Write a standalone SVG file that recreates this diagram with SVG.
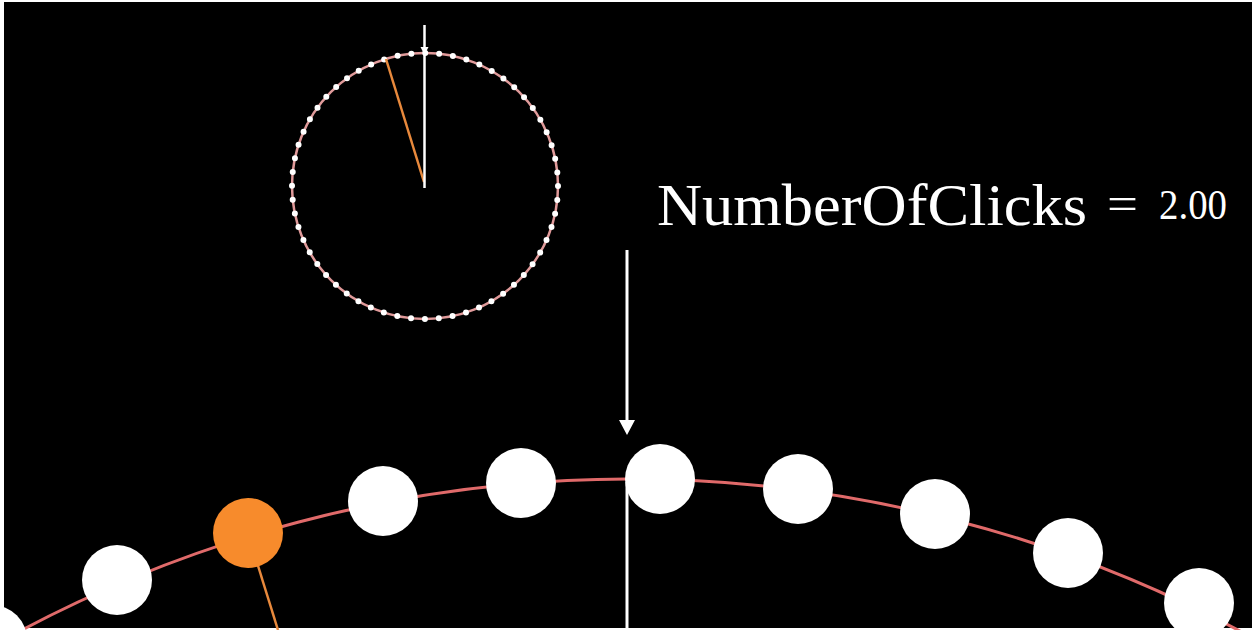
<svg xmlns="http://www.w3.org/2000/svg" width="1254" height="630" viewBox="0 0 1254 630">
  <style>
    .node { fill: #ffffff; }
    .orange { fill: #f78b2c; }
    .wline { stroke: #ffffff; stroke-width: 3; fill: none; }
    .oline { stroke: #e8893c; stroke-width: 2.5; fill: none; }
    .arc { stroke: #e06a6a; stroke-width: 3; fill: none; }
    .label { font-family: "Liberation Serif", "DejaVu Serif", serif; fill: #ffffff; }
  </style>
  <rect x="0" y="0" width="1254" height="630" fill="#ffffff"/>
  <rect x="4" y="2" width="1248" height="626" fill="#000000"/>

  <g id="dial">
    <circle cx="425" cy="186" r="133" fill="none" stroke="#e09a9a" stroke-width="2.5"/>
    <circle cx="425" cy="186" r="133" fill="none" stroke="#ffffff" stroke-width="6" stroke-linecap="round" stroke-dasharray="0 13.928"/>
    <line class="oline" x1="424" y1="182" x2="386" y2="59"/>
    <line x1="424.5" y1="25" x2="424.5" y2="188" stroke="#ffffff" stroke-width="2.5"/>
    <polygon points="420.5,47 428.5,47 424.5,55" fill="#ffffff"/>
  </g>

  <g id="label">
    <text class="label" x="657" y="225" font-size="59" textLength="430" lengthAdjust="spacingAndGlyphs">NumberOfClicks</text>
    <text class="label" x="1107" y="219" font-size="46" textLength="31" lengthAdjust="spacingAndGlyphs">=</text>
    <text class="label" x="1159" y="219" font-size="43" textLength="68" lengthAdjust="spacingAndGlyphs">2.00</text>
  </g>

  <g id="connectors">
    <path class="arc" d="M 0 641.9 A 1300 1300 0 0 1 1254 638.6"/>
    <line class="oline" x1="250" y1="540" x2="278" y2="630"/>
    <line class="wline" x1="627" y1="250" x2="627" y2="421"/>
    <polygon points="619,420 635,420 627,435" fill="#ffffff"/>
  </g>

  <g id="node-0"><circle class="node" cx="-8" cy="640" r="35"/></g>
  <g id="node-1"><circle class="node" cx="117" cy="580" r="35"/></g>
  <g id="node-2"><circle class="orange" cx="248" cy="533" r="35"/></g>
  <g id="node-3"><circle class="node" cx="383" cy="501" r="35"/></g>
  <g id="node-4"><circle class="node" cx="521" cy="483" r="35"/></g>
  <g id="node-5"><circle class="node" cx="660" cy="479" r="35"/></g>
  <g id="node-6"><circle class="node" cx="798" cy="489" r="35"/></g>
  <g id="node-7"><circle class="node" cx="935" cy="514" r="35"/></g>
  <g id="node-8"><circle class="node" cx="1068" cy="553" r="35"/></g>
  <g id="node-9"><circle class="node" cx="1199" cy="603" r="35"/></g>

  <g id="marker-line">
    <line class="wline" x1="627" y1="482" x2="627" y2="630"/>
  </g>
</svg>
